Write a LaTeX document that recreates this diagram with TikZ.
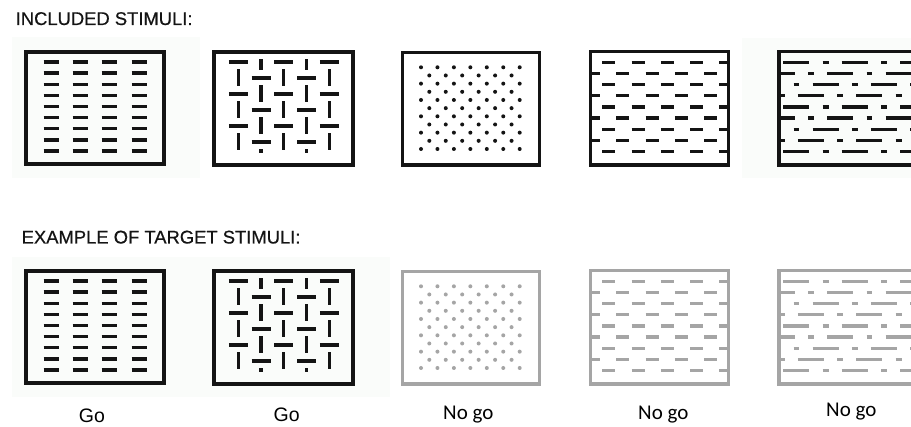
\documentclass[tikz,border=0pt]{standalone}
\usepackage{fontspec}
\setmainfont{Liberation Sans}
\newfontfamily\carlfont{Carlito}
\newfontfamily\titlefont[FakeBold=0.5]{Liberation Sans}
\definecolor{ink}{RGB}{20,20,20}
\definecolor{dim}{RGB}{165,165,165}
\definecolor{pale}{RGB}{250,252,250}
\newcommand\stimRows[1]{%
  \draw[frame,#1] (26,52) rectangle (164,164);
  \foreach \k in {0,...,8}{\foreach \c in {51,80,109,139}{%
    \draw[bar,#1] (\c-7.5,62+11.125*\k) -- (\c+7.5,62+11.125*\k);}}%
}
\newcommand\stimWeave[1]{%
  \draw[frame,#1] (214,52) rectangle (353,165);
  \begin{scope}
    \clip (214,60) rectangle (353,153);
    \foreach \j in {0,...,4}{\foreach \k in {-1,...,6}{%
      \pgfmathsetmacro\xx{238.3+22.75*\j}%
      \pgfmathsetmacro\yy{62+16*\k}%
      \pgfmathtruncatemacro\myparity{mod(\j+\k+10,2)}%
      \ifnum\myparity=0
        \draw[bar,#1] (\xx-9.5,\yy) -- (\xx+9.5,\yy);
      \else
        \draw[bar,#1] (\xx,\yy-8.5) -- (\xx,\yy+8.5);
      \fi}}%
  \end{scope}
}
\newcommand\stimDots[1]{%
  \draw[frame,line width=3.5pt,#1] (402.7,52.7) rectangle (539.3,165);
  \foreach \k in {0,...,10}{%
    \pgfmathtruncatemacro\myparity{mod(\k,2)}%
    \ifnum\myparity=0
      \foreach \i in {0,...,6}{\fill[#1] (421+16.45*\i,67.3+8.17*\k) circle[radius=2pt];}%
    \else
      \foreach \i in {0,...,5}{\fill[#1] (429.3+16.45*\i,67.3+8.17*\k) circle[radius=2pt];}%
    \fi}%
}
\newcommand\stimDash[1]{%
  \draw[frame,#1] (590.7,51.7) rectangle (728.3,165);
  \begin{scope}
    \clip (590.7,50) rectangle (728.3,167);
    \foreach \k in {0,...,8}{\foreach \i in {-1,...,4}{%
      \pgfmathsetmacro\cx{608.7+14*mod(\k,2)+29.3*\i}%
      \pgfmathsetmacro\yy{62.3+11.17*\k}%
      \draw[bar,#1] (\cx-6.5,\yy) -- (\cx+6.5,\yy);}}%
  \end{scope}
}
\newcommand\stimMixed[1]{%
  \draw[frame,#1] (925,51.7) -- (779,51.7) -- (779,165) -- (925,165);
  \begin{scope}
    \clip (779,50) rectangle (911,167);
    \foreach \k in {0,...,8}{\foreach \i in {-1,...,3}{%
      \pgfmathsetmacro\ss{783.3-14.6*mod(\k,4)+58.4*\i}%
      \pgfmathsetmacro\yy{62.3+11.17*\k}%
      \draw[bar,#1] (\ss,\yy) -- (\ss+26,\yy);
      \draw[bar,#1] (\ss+39.4,\yy) -- (\ss+45.2,\yy);}}%
  \end{scope}
}
\begin{document}
\begin{tikzpicture}[x=1pt,y=-1pt,
  bar/.style={line width=3.3pt},
  frame/.style={line width=3.2pt},
  title/.style={anchor=base west,inner sep=0pt,font=\titlefont\fontsize{18.4}{20}\selectfont,text=ink},
  golabel/.style={anchor=base,inner sep=0pt,font=\fontsize{19.5}{22}\selectfont,text=black},
  nogolabel/.style={anchor=base,inner sep=0pt,font=\carlfont\fontsize{21}{24}\selectfont,text=black}]
\useasboundingbox (0,0) rectangle (911,427);
\fill[white] (0,0) rectangle (911,427);
\fill[pale] (12,37) rectangle (200,178);
\fill[pale] (742,38) rectangle (911,178);
\fill[pale] (12,257) rectangle (390,397);
\node[title] (t1) at (15.5,25) {INCLUDED STIMULI:};
\node[title] (t2) at (21.5,243.5) {EXAMPLE OF TARGET STIMULI:};
\stimRows{ink}
\stimWeave{ink}
\stimDots{ink}
\stimDash{ink}
\stimMixed{ink}
\begin{scope}[shift={(0,219)}]
\stimRows{ink}
\stimWeave{ink}
\stimDots{dim}
\stimDash{dim}
\stimMixed{dim}
\end{scope}
\node[golabel] (g1) at (92,423) {Go};
\node[golabel] (g2) at (286.7,421.5) {Go};
\node[nogolabel] (n1) at (468.3,420) {No go};
\node[nogolabel] (n2) at (663.3,420) {No go};
\node[nogolabel] (n3) at (851.3,416.7) {No go};
\end{tikzpicture}
\end{document}
